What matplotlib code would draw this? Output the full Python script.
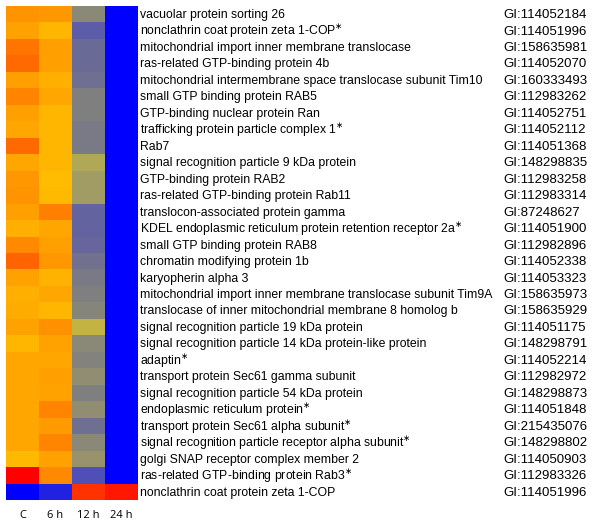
import matplotlib
matplotlib.use("Agg")
import matplotlib.pyplot as plt
import matplotlib.transforms as mtransforms
from matplotlib.colors import LinearSegmentedColormap
import numpy as np

plt.rcParams['font.family'] = ['Liberation Sans', 'DejaVu Sans']

# Data setup
timepoints = ['C', '6 h', '12 h', '24 h']

proteins = [
    'vacuolar protein sorting 26',
    'nonclathrin coat protein zeta 1-COP*',
    'mitochondrial import inner membrane translocase',
    'ras-related GTP-binding protein 4b',
    'mitochondrial intermembrane space translocase subunit Tim10',
    'small GTP binding protein RAB5',
    'GTP-binding nuclear protein Ran',
    'trafficking protein particle complex 1*',
    'Rab7',
    'signal recognition particle 9 kDa protein',
    'GTP-binding protein RAB2',
    'ras-related GTP-binding protein Rab11',
    'translocon-associated protein gamma',
    'KDEL endoplasmic reticulum protein retention receptor 2a*',
    'small GTP binding protein RAB8',
    'chromatin modifying protein 1b',
    'karyopherin alpha 3',
    'mitochondrial import inner membrane translocase subunit Tim9A',
    'translocase of inner mitochondrial membrane 8 homolog b',
    'signal recognition particle 19 kDa protein',
    'signal recognition particle 14 kDa protein-like protein',
    'adaptin*',
    'transport protein Sec61 gamma subunit',
    'signal recognition particle 54 kDa protein',
    'endoplasmic reticulum protein*',
    'transport protein Sec61 alpha subunit*',
    'signal recognition particle receptor alpha subunit*',
    'golgi SNAP receptor complex member 2',
    'ras-related GTP-binding protein Rab3*',
    'nonclathrin coat protein zeta 1-COP',
]

gi_ids = [
    'GI:114052184', 'GI:114051996', 'GI:158635981', 'GI:114052070',
    'GI:160333493', 'GI:112983262', 'GI:114052751', 'GI:114052112',
    'GI:114051368', 'GI:148298835', 'GI:112983258', 'GI:112983314',
    'GI:87248627', 'GI:114051900', 'GI:112982896', 'GI:114052338',
    'GI:114053323', 'GI:158635973', 'GI:158635929', 'GI:114051175',
    'GI:148298791', 'GI:114052214', 'GI:112982972', 'GI:148298873',
    'GI:114051848', 'GI:215435076', 'GI:148298802', 'GI:114050903',
    'GI:112983326', 'GI:114051996',
]

# relative expression (0 = low / blue, 1 = high / red)
expr_c = [0.79, 0.75, 0.85, 0.87, 0.76, 0.82, 0.76, 0.74, 0.87, 0.74,
          0.78, 0.79, 0.76, 0.72, 0.81, 0.88, 0.75, 0.72, 0.73, 0.75,
          0.70, 0.74, 0.74, 0.74, 0.74, 0.74, 0.74, 0.69, 1.00, 0.00]
expr_6h = [0.78, 0.70, 0.76, 0.76, 0.72, 0.74, 0.70, 0.70, 0.70, 0.70,
           0.68, 0.69, 0.83, 0.74, 0.76, 0.78, 0.71, 0.74, 0.70, 0.80,
           0.75, 0.74, 0.76, 0.75, 0.82, 0.77, 0.82, 0.75, 0.81, 0.12]
expr_12h = [0.47, 0.32, 0.36, 0.36, 0.38, 0.44, 0.44, 0.42, 0.42, 0.56,
            0.53, 0.53, 0.34, 0.34, 0.35, 0.39, 0.42, 0.44, 0.46, 0.59,
            0.47, 0.45, 0.49, 0.44, 0.49, 0.38, 0.47, 0.51, 0.28, 0.94]
expr_24h = [0.0] * 29 + [0.97]

data = np.array([expr_c, expr_6h, expr_12h, expr_24h]).T

nodes = [
    (0.00, (0, 0, 255)),
    (0.28, (80, 80, 184)),
    (0.36, (106, 106, 152)),
    (0.44, (128, 128, 128)),
    (0.50, (148, 144, 112)),
    (0.58, (184, 176, 80)),
    (0.66, (255, 196, 0)),
    (0.72, (255, 176, 0)),
    (0.80, (255, 144, 0)),
    (0.88, (255, 102, 0)),
    (1.00, (255, 0, 0)),
]
cmap = LinearSegmentedColormap.from_list(
    'expr', [(p, tuple(c / 255 for c in rgb)) for p, rgb in nodes])

fig = plt.figure(figsize=(6.0, 5.24), dpi=100)
ax = fig.add_axes([6 / 600, 1 - 500 / 524, 132 / 600, 494 / 524])
ax.imshow(data, cmap=cmap, vmin=0, vmax=1, aspect='auto',
          interpolation='nearest')
ax.set_xlim(-0.5, 3.5)
ax.set_ylim(len(proteins) - 0.5, -0.5)
for s in ax.spines.values():
    s.set_visible(False)
ax.set_yticks([])
ax.set_xticks(range(len(timepoints)))
ax.set_xticklabels(timepoints, fontsize=8, family=['Open Sans', 'DejaVu Sans'])
ax.tick_params(axis='x', length=0, pad=7)

trans = mtransforms.blended_transform_factory(fig.transFigure, ax.transData)
for i, (name, gi) in enumerate(zip(proteins, gi_ids)):
    if name.endswith('*'):
        label = name[:-1] + r'$^{\ast}$'
    else:
        label = name
    ax.text(140 / 600, i + 0.05, label, transform=trans, fontsize=8.85,
            va='center', ha='left', clip_on=False)
    ax.text(503 / 600, i + 0.05, gi, transform=trans, fontsize=9.5,
            va='center', ha='left', clip_on=False)

fig.savefig('out.png', dpi=100)
